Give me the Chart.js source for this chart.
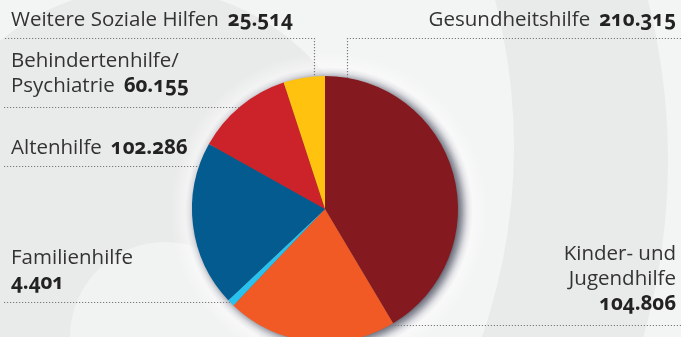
<!DOCTYPE html>
<html lang="de">
<head>
<meta charset="utf-8">
<script src="https://cdn.jsdelivr.net/npm/chart.js@4/dist/chart.umd.min.js"></script>
<style>
  html, body { margin: 0; padding: 0; background: #f3f4f4; }
  #wrap { position: relative; width: 681px; height: 337px; overflow: hidden; }
  #c { position: absolute; left: 0; top: 0; }
  .lbl {
    position: absolute; white-space: nowrap;
    font-family: "Open Sans", Lato, sans-serif; font-size: 20.5px; line-height: 24px;
    color: #333333;
  }
  .lbl b { font-weight: 700; color: #222222; margin-left: 9px; font-variant-numeric: oldstyle-nums; }
  .lbl b.own { margin-left: 0; }
</style>
</head>
<body>
<div id="wrap">
  <canvas id="c" width="681" height="350"></canvas>
</div>
<script>
// Ausgaben nach Hilfebereich
const categories = [
  'Gesundheitshilfe',
  'Kinder- und\nJugendhilfe',
  'Familienhilfe',
  'Altenhilfe',
  'Behindertenhilfe/\nPsychiatrie',
  'Weitere Soziale Hilfen'
];
const values = [210315, 104806, 4401, 102286, 60155, 25514];
const colors = ['#841a1f', '#f15a24', '#29c1ee', '#045b8f', '#cc2229', '#fec20f'];

// label placement: first baseline, horizontal anchor, value on its own line
const labelLayout = [
  { i: 0, baseline: 27,  right: 5,  ownLine: false },
  { i: 1, baseline: 261, right: 5,  ownLine: true },
  { i: 2, baseline: 265, left: 11,  ownLine: true },
  { i: 3, baseline: 155, left: 11,  ownLine: false },
  { i: 4, baseline: 68,  left: 11,  ownLine: false },
  { i: 5, baseline: 27,  left: 11,  ownLine: false }
];
const lineStep = 25;

// dotted leader lines: y of the rule, side it comes from, optional drop to the pie top
const leaders = [
  { y: 38,  from: 'right', dropX: 347 },
  { y: 325, from: 'right' },
  { y: 302, from: 'left' },
  { y: 166, from: 'left' },
  { y: 107, from: 'left' },
  { y: 38,  from: 'left', dropX: 314 }
];

function fmt(n) {
  return String(n).replace(/\B(?=(\d{3})+(?!\d))/g, '.');
}

const wrap = document.getElementById('wrap');
labelLayout.forEach(L => {
  const lines = categories[L.i].split('\n');
  const val = '<b class="' + (L.ownLine ? 'own' : '') + '">' + fmt(values[L.i]) + '</b>';
  const html = lines.map((t, k) => (k === lines.length - 1 && !L.ownLine) ? t + val : t);
  if (L.ownLine) html.push(val);
  html.forEach((h, k) => {
    const d = document.createElement('div');
    d.className = 'lbl';
    d.innerHTML = h;
    d.style.top = (L.baseline + k * lineStep - 21) + 'px';
    if (L.right !== undefined) { d.style.right = L.right + 'px'; d.style.textAlign = 'right'; }
    else d.style.left = L.left + 'px';
    wrap.appendChild(d);
  });
});

// decorative circles behind the pie
const backdrop = {
  id: 'backdrop',
  beforeDraw(chart) {
    const ctx = chart.ctx;
    const disc = (x, y, r, c) => { ctx.beginPath(); ctx.arc(x, y, r, 0, Math.PI * 2); ctx.fillStyle = c; ctx.fill(); };
    ctx.save();
    ctx.fillStyle = '#f3f4f4';
    ctx.fillRect(0, 0, chart.width, chart.height);
    disc(18, 160, 650, '#e9eaea');
    disc(-64, 147, 578, '#f3f4f4');
    disc(146, 216, 228, '#e9eaea');
    disc(165, 337, 95, '#f1f2f2');
    ctx.restore();
  }
};

// soft drop shadow under the whole pie, offset to the lower right
const pieShadow = {
  id: 'pieShadow',
  beforeDatasetsDraw(chart) {
    const arc = chart.getDatasetMeta(0).data[0];
    if (!arc) return;
    const ctx = chart.ctx;
    const r = arc.outerRadius;
    const sx = arc.x + 4, sy = arc.y + 2;
    ctx.save();
    // light halo around the shadow
    const halo = ctx.createRadialGradient(sx, sy, r, sx, sy, r + 26);
    halo.addColorStop(0, 'rgba(255,255,255,0.75)');
    halo.addColorStop(1, 'rgba(255,255,255,0)');
    ctx.fillStyle = halo;
    ctx.beginPath();
    ctx.arc(sx, sy, r + 26, 0, Math.PI * 2);
    ctx.fill();
    // dark falloff
    const g = ctx.createRadialGradient(sx, sy, r - 6, sx, sy, r + 11);
    g.addColorStop(0, 'rgba(55,58,75,0.85)');
    g.addColorStop(0.35, 'rgba(75,78,95,0.55)');
    g.addColorStop(0.7, 'rgba(120,122,140,0.18)');
    g.addColorStop(1, 'rgba(160,162,175,0)');
    ctx.fillStyle = g;
    ctx.beginPath();
    ctx.arc(sx, sy, r + 11, 0, Math.PI * 2);
    ctx.fill();
    ctx.restore();
  }
};

// dotted rules from the labels to the pie edge
const leaderLines = {
  id: 'leaderLines',
  afterDatasetsDraw(chart) {
    const arc = chart.getDatasetMeta(0).data[0];
    if (!arc) return;
    const cx = arc.x, cy = arc.y, r = arc.outerRadius;
    const ctx = chart.ctx;
    ctx.save();
    ctx.strokeStyle = '#7a7a7a';
    ctx.lineWidth = 1.2;
    ctx.setLineDash([1.2, 1.8]);
    leaders.forEach(l => {
      ctx.beginPath();
      if (l.dropX !== undefined) {
        const yTop = cy - Math.sqrt(r * r - (l.dropX - cx) * (l.dropX - cx));
        if (l.from === 'left') { ctx.moveTo(5, l.y + 0.5); ctx.lineTo(l.dropX + 0.5, l.y + 0.5); }
        else { ctx.moveTo(chart.width, l.y + 0.5); ctx.lineTo(l.dropX + 0.5, l.y + 0.5); }
        ctx.lineTo(l.dropX + 0.5, yTop);
      } else {
        const dx = Math.sqrt(Math.max(r * r - (l.y - cy) * (l.y - cy), 0));
        if (l.from === 'left') { ctx.moveTo(4, l.y + 0.5); ctx.lineTo(cx - dx, l.y + 0.5); }
        else { ctx.moveTo(chart.width, l.y + 0.5); ctx.lineTo(cx + dx, l.y + 0.5); }
      }
      ctx.stroke();
    });
    ctx.restore();
  }
};

new Chart(document.getElementById('c'), {
  type: 'pie',
  data: {
    labels: categories.map(c => c.replace('\n', ' ')),
    datasets: [{ data: values, backgroundColor: colors, borderWidth: 0 }]
  },
  options: {
    responsive: false,
    animation: false,
    layout: { padding: { left: 192, right: 223, top: 76, bottom: 8 } },
    plugins: { legend: { display: false }, tooltip: { enabled: false } }
  },
  plugins: [backdrop, pieShadow, leaderLines]
});
</script>
</body>
</html>
